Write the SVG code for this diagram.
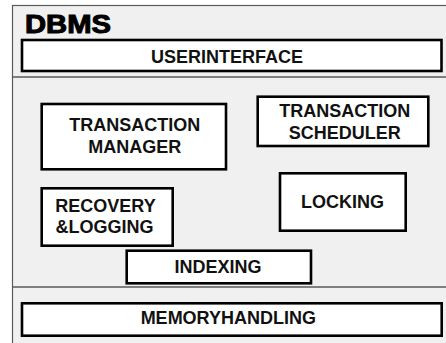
<svg xmlns="http://www.w3.org/2000/svg" width="446" height="343" viewBox="0 0 446 343">
<style>
.frame{fill:#f0f0f0;stroke:#5a5a5a;stroke-width:1.2}
.div{stroke:#5a5a5a;stroke-width:1.5;fill:none}
.box{fill:#fff;stroke:#000;stroke-width:2.6}
.lbl{font-family:"Liberation Sans",Arial,sans-serif;font-weight:bold;font-size:18px;fill:#111;text-anchor:middle}
.title{font-family:"Liberation Sans",Arial,sans-serif;font-weight:bold;font-size:25px;fill:#000;stroke:#000;stroke-width:1}
</style>
<rect width="446" height="343" fill="#fff"/>
<g id="dbms">
<rect class="frame" x="12.5" y="5.5" width="440" height="345"/>
<text class="title" x="25" y="33" textLength="86" lengthAdjust="spacingAndGlyphs">DBMS</text>
</g>
<g id="dividers">
<line class="div" x1="12.5" y1="77" x2="446" y2="77"/>
<line class="div" x1="12.5" y1="287" x2="446" y2="287"/>
</g>
<g id="userinterface">
<rect class="box" x="22" y="40" width="419.5" height="31"/>
<text class="lbl" x="227" y="62.5">USERINTERFACE</text>
</g>
<g id="transaction-manager">
<rect class="box" x="41.7" y="104" width="184.3" height="65.3"/>
<text class="lbl" x="134.7" y="130.7">TRANSACTION</text>
<text class="lbl" x="134.7" y="153.3">MANAGER</text>
</g>
<g id="transaction-scheduler">
<rect class="box" x="257.7" y="96.7" width="170.6" height="49.3"/>
<text class="lbl" x="344.7" y="116.7">TRANSACTION</text>
<text class="lbl" x="344.7" y="139.3">SCHEDULER</text>
</g>
<g id="locking">
<rect class="box" x="280" y="173.3" width="125.7" height="57.4"/>
<text class="lbl" x="342.5" y="208.3">LOCKING</text>
</g>
<g id="recovery-logging">
<rect class="box" x="41.7" y="188.3" width="131" height="57.4"/>
<text class="lbl" x="105.5" y="211.7">RECOVERY</text>
<text class="lbl" x="104.5" y="233.3">&amp;LOGGING</text>
</g>
<g id="indexing">
<rect class="box" x="126.7" y="250.7" width="184.3" height="32.6"/>
<text class="lbl" x="218" y="273.3">INDEXING</text>
</g>
<g id="memoryhandling">
<rect class="box" x="22" y="303.3" width="419.7" height="32.4"/>
<text class="lbl" x="228.3" y="324">MEMORYHANDLING</text>
</g>
<g id="connectors"></g>
</svg>
